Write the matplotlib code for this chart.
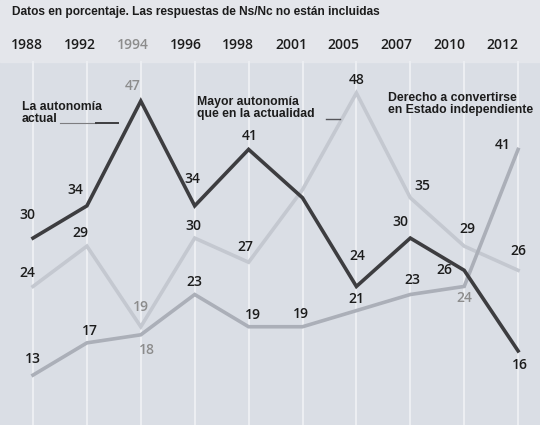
import matplotlib
matplotlib.use("Agg")
import matplotlib.pyplot as plt

years = ["1988", "1992", "1994", "1996", "1998", "2001", "2005", "2007", "2010", "2012"]
autonomia_actual = [30, 34, 47, 34, 41, 35, 24, 30, 26, 16]
mayor_autonomia = [24, 29, 19, 30, 27, 36, 48, 35, 29, 26]
independiente = [13, 17, 18, 23, 19, 19, 21, 23, 24, 41]

title = "Datos en porcentaje. Las respuestas de Ns/Nc no están incluidas"
label_actual = "La autonomía\nactual"
label_mayor = "Mayor autonomía\nque en la actualidad"
label_indep = "Derecho a convertirse\nen Estado independiente"

# which value labels are shown and offsets in pixels (dx, dy up)
show_actual = [True, True, True, True, True, False, True, True, True, True]
off_actual = [(-6, 23), (-12, 16), (-8, 15), (-2, 27), (1, 13), (0, 0), (1, 30), (-10, 16), (-20, 0), (2, -14)]
off_mayor = [(-6, 13), (-7, 13), (0, 20), (-1, 12), (-3, 15), (0, 0), (0, 13), (12, 12), (3, 17), (0, 19)]
show_mayor = [True, True, True, True, True, False, True, True, True, True]
off_indep = [(0, 16), (3, 12), (6, -15), (0, 12), (4, 12), (-2, 13), (0, 12), (2, 14), (0, -12), (-15, 4)]
show_indep = [True] * 10
gray_labels = {("actual", 2), ("mayor", 2), ("indep", 2), ("indep", 8)}

W, H = 540, 425
fig = plt.figure(figsize=(W / 100, H / 100), dpi=100)
bg = "#dadee5"
fig.patch.set_facecolor(bg)
ax = fig.add_axes([0, 0, 1, 1])
ax.set_facecolor(bg)

x0, dx = 33, 53.9
vy0, vscale = 48, 8.06  # value 48 at pixel y=93
ax.set_xlim(-x0 / dx, (W - x0) / dx)
ax.set_ylim(vy0 - (H - 93) / vscale, vy0 + 93 / vscale)
ax.axis("off")

# lighter title band
ax.axhspan(vy0 + (93 - 62) / vscale, vy0 + 93 / vscale, color="#e4e6eb", zorder=0)

xs = list(range(len(years)))
for x in xs:
    ax.plot([x, x], [vy0 - (H - 93) / vscale, vy0 + (93 - 62) / vscale],
            color="#eceef2", lw=1.5, zorder=1)

c_dark = "#3d3d40"
c_light = "#c4c8d0"
c_mid = "#abafb8"
ax.plot(xs, mayor_autonomia, color=c_light, lw=2.6, zorder=2, solid_joinstyle="miter")
ax.plot(xs, independiente, color=c_mid, lw=2.6, zorder=3, solid_joinstyle="miter")
ax.plot(xs, autonomia_actual, color=c_dark, lw=2.6, zorder=4, solid_joinstyle="miter")

num_font = ["Open Sans", "DejaVu Sans"]
cond_font = ["Liberation Sans Narrow", "Liberation Sans", "DejaVu Sans"]
txt = "#1c1c1c"
gray_txt = "#8c8c8c"

def put_labels(vals, offs, shows, key):
    for i, (v, o, s) in enumerate(zip(vals, offs, shows)):
        if not s:
            continue
        col = gray_txt if (key, i) in gray_labels else txt
        ax.annotate(str(v), (i, v), xytext=(o[0] * 0.72, o[1] * 0.72),
                    textcoords="offset points", ha="center", va="center",
                    fontsize=10, family=num_font, fontweight="semibold",
                    color=col, zorder=6)

put_labels(autonomia_actual, off_actual, show_actual, "actual")
put_labels(mayor_autonomia, off_mayor, show_mayor, "mayor")
put_labels(independiente, off_indep, show_indep, "indep")

# year labels at top
for i, y in enumerate(years):
    col = gray_txt if i == 2 else txt
    fig.text((x0 + dx * i - 6 - 1.1 * i) / W, 1 - 45 / H, y, ha="center", va="center",
             fontsize=10, family=num_font, fontweight="semibold", color=col)

fig.text(12 / W, 1 - 12 / H, title, ha="left", va="center", fontsize=8.6,
         fontweight="bold", family=cond_font, color=txt)

# series legends
fig.text(22 / W, 1 - 113 / H, label_actual, ha="left", va="center", fontsize=8.8,
         fontweight="bold", family=cond_font, color=txt, linespacing=1.0)
fig.add_artist(plt.Line2D([60 / W, 96 / W], [1 - 123 / H] * 2, color="#7d7d80", lw=0.8))
fig.add_artist(plt.Line2D([96 / W, 118 / W], [1 - 123 / H] * 2, color=c_dark, lw=1.4))

fig.text(197 / W, 1 - 108 / H, label_mayor, ha="left", va="center", fontsize=8.8,
         fontweight="bold", family=cond_font, color=txt, linespacing=1.0)
fig.add_artist(plt.Line2D([326 / W, 340 / W], [1 - 119 / H] * 2, color="#55555a", lw=1.0))

fig.text(388 / W, 1 - 104 / H, label_indep, ha="left", va="center", fontsize=8.8,
         fontweight="bold", family=cond_font, color=txt, linespacing=1.0)

fig.savefig("out.png", dpi=100, facecolor=bg)
